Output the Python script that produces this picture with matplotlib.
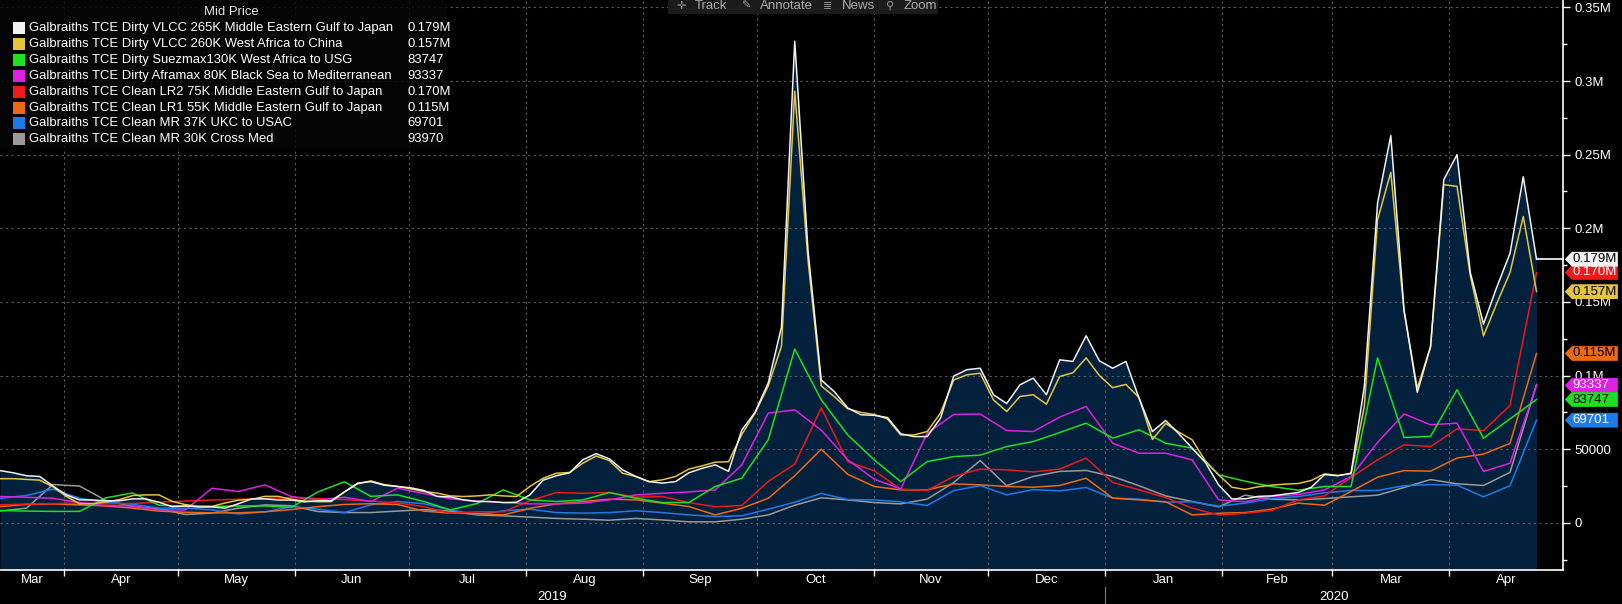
import numpy as np
import pandas as pd
import matplotlib
matplotlib.use('Agg')
import matplotlib.pyplot as plt
import matplotlib.dates as mdates
import matplotlib.transforms as mtransforms
from matplotlib.patches import Polygon, Rectangle
from matplotlib.ticker import MultipleLocator, FuncFormatter, FixedLocator, NullFormatter

plt.rcParams['font.family'] = ['Liberation Sans', 'DejaVu Sans']

W, H = 1622, 604

# the two VLCC routes are read twice a week, the other routes weekly
dates_half = pd.date_range('2019-03-15', periods=117, freq='84h')
dates_week = pd.date_range('2019-03-15', periods=59, freq='7D')

# values in thousands of USD/day
vlcc_meg_japan = np.array([
    35.5, 34, 32, 31.5, 25, 19, 15.6, 15.5, 15, 15,
    16.3, 16.3, 14, 11, 11.5, 10.8, 10.8, 10, 13, 16.3,
    16.3, 15.5, 15.5, 14.3, 15, 15, 21, 27, 28, 25.6,
    24.7, 23.8, 22, 18, 17.6, 15.6, 14.5, 14.5, 13.8, 14,
    19, 29, 32, 34, 42.8, 47, 43.5, 36, 31.5, 28,
    27, 28, 34, 37, 39.4, 35, 63, 75, 95, 133,
    327, 185, 97, 89, 78, 73.4, 73, 71.5, 60.5, 58.6,
    58.6, 71, 99.6, 104, 105, 87, 81, 93.7, 98.3, 87,
    110.7, 109.6, 127, 110, 105, 109.6, 84.5, 62, 69.5, 60.5,
    50.7, 41, 25.8, 16.3, 16.3, 18, 18.3, 19.5, 20.6, 24.2,
    32.8, 32, 33.8, 92.6, 217, 263, 144.6, 88.6, 119.6, 233,
    250, 170, 135, 160, 183, 235, 179]) * 1000

vlcc_waf_china = np.array([
    30, 30, 29.5, 29, 24.5, 18, 13, 13, 14.2, 15.8,
    18.5, 19, 19, 14.6, 12.4, 11.2, 11.2, 13.5, 15.4, 16,
    18, 18, 16, 14.8, 14.4, 14.4, 21, 26.5, 28.5, 26,
    24.8, 23.1, 21.3, 20.2, 18.3, 17.9, 18.3, 19, 18.3, 17.9,
    24.7, 30.3, 33.7, 34.2, 40.5, 45.4, 42.3, 33.7, 31.5, 28,
    29.2, 31.5, 36.5, 38.7, 41.2, 41.5, 60, 74.5, 93, 120,
    293, 178.6, 93, 85.6, 77.5, 75, 73.6, 70.6, 59.7, 59.7,
    62, 74.5, 97, 100.5, 101.6, 83.5, 75.6, 85.8, 87, 80.6,
    99.4, 101.9, 112, 100, 91.8, 94, 85, 56.6, 67.5, 61.6,
    56.4, 42.1, 32.6, 24.2, 22.7, 24.5, 25.6, 26.3, 26.7, 28.8,
    33.3, 32.2, 33.3, 79, 205.8, 238, 143.6, 91.5, 119.6, 229.6,
    228.5, 168, 127, 149, 170, 208, 157]) * 1000

suezmax_waf_usg = np.array([
    8.4, 8, 7.8, 7.8, 17, 20.3, 12, 11.3, 11.1, 11.5,
    11.5, 10.5, 21, 27.9, 18, 19, 14.5, 8.8, 13.1, 22.4,
    15.6, 14.5, 15.6, 20.6, 16.7, 13.8, 13.8, 24.7, 30.3, 56.4,
    118, 83.6, 59.7, 42.8, 28, 41.6, 45, 46, 51.8, 55.2,
    61.3, 67.7, 57.5, 63.2, 54.1, 50.7, 32.6, 28.3, 24.7, 22.2,
    24.7, 24.7, 112, 58, 58.7, 90.4, 57.5, 70.6, 83.747]) * 1000

aframax_bsea_med = np.array([
    17.9, 17.4, 16.7, 13.8, 11.6, 11.5, 8.8, 8.8, 23.5, 21.3,
    25.8, 17.9, 15.6, 17.4, 14.5, 23.5, 19.9, 16.3, 14.9, 13.8,
    12.9, 12.9, 13.4, 15.6, 19, 20.1, 21, 22.4, 39.4, 74.5,
    76.7, 63, 42.8, 29.7, 23, 60.9, 73.6, 73.9, 62.7, 62,
    71.8, 79, 54.1, 47.3, 47.3, 42.8, 15.6, 14.3, 17.9, 19.3,
    22.4, 31.5, 54.6, 74, 66.6, 67.7, 34.9, 40.5, 93.337]) * 1000

lr2_meg_japan = np.array([
    12.2, 12.8, 13, 13.5, 12.9, 13.2, 14, 14.8, 15.5, 16,
    16.5, 17.2, 16.5, 15.8, 14.8, 13.5, 11, 6.5, 7.5, 7.5,
    15, 20.6, 20.1, 20.6, 17.4, 17.9, 13.8, 10.9, 11.8, 28.1,
    40, 78, 41.6, 35.4, 22.9, 22, 31.5, 36.5, 36, 34.6,
    36.5, 44, 27.5, 22.4, 17.2, 10, 5.4, 6.5, 8.4, 15.6,
    18.3, 30.8, 42.8, 53, 51.8, 63.8, 62.7, 79.7, 170]) * 1000

lr1_meg_japan = np.array([
    11, 12.5, 12.8, 12.2, 11.5, 10, 8, 7.2, 6.8, 6.8,
    7.5, 9, 11, 12.5, 13, 12.5, 8, 6.6, 6.3, 5.4,
    9.9, 12.9, 14.5, 16.1, 15.6, 13.4, 11.1, 5.4, 9.9, 16.7,
    32, 50, 33, 24.7, 22.4, 22.4, 26.5, 25.8, 24.7, 24.2,
    25.4, 30.3, 16.8, 15.6, 14.3, 5.4, 6.5, 7, 9.3, 13.4,
    12, 21.3, 31, 35.5, 35.1, 44, 46.7, 54, 115]) * 1000

mr_ukc_usac = np.array([
    16.7, 18.6, 22.9, 16.7, 14, 12.6, 10, 10, 8.8, 6,
    7.5, 11, 9.3, 7, 12.2, 14.5, 13, 8.8, 5.7, 8.2,
    9.3, 7, 6.6, 7, 8.2, 7, 5.4, 4.3, 4.8, 9.3,
    14, 20, 15.8, 15.6, 14.3, 11.8, 21.9, 25.3, 19, 22.6,
    21.7, 24, 16.8, 16.1, 14, 14.3, 11.3, 13.4, 16.5, 17.9,
    20.4, 22, 22, 25.2, 26, 25.6, 17.7, 25.2, 69.701]) * 1000

mr_cross_med = np.array([
    8, 10, 26, 25, 15.2, 11.1, 9.5, 5.7, 6.6, 10,
    12.2, 11.6, 7.7, 7, 7, 8, 9, 8, 5.4, 4.8,
    3.9, 3, 2.5, 1.8, 3, 2, 0.7, 0.7, 2.5, 5.4,
    12, 17, 15.6, 13.8, 12.9, 16.1, 27.4, 42.3, 25.2, 31.5,
    34.9, 35.6, 31.5, 25.2, 18.3, 14.5, 10.9, 18.8, 16.1, 15.6,
    16.5, 17.7, 18.8, 24, 29.4, 26.5, 25.4, 34.3, 93.97]) * 1000

names = [
    'Galbraiths TCE Dirty VLCC 265K Middle Eastern Gulf to Japan',
    'Galbraiths TCE Dirty VLCC 260K West Africa to China',
    'Galbraiths TCE Dirty Suezmax130K West Africa to USG',
    'Galbraiths TCE Dirty Aframax 80K Black Sea to Mediterranean',
    'Galbraiths TCE Clean LR2 75K Middle Eastern Gulf to Japan',
    'Galbraiths TCE Clean LR1 55K Middle Eastern Gulf to Japan',
    'Galbraiths TCE Clean MR 37K UKC to USAC',
    'Galbraiths TCE Clean MR 30K Cross Med',
]
colors = ['#f2f2f2', '#e4c53c', '#1fe01f', '#e020e0', '#f01818', '#ee6a12', '#1e7be8', '#9a9a9a']
box_text = ['black', 'black', 'black', 'white', 'white', 'black', 'white', 'black']
series = [
    (dates_half, vlcc_meg_japan),
    (dates_half, vlcc_waf_china),
    (dates_week, suezmax_waf_usg),
    (dates_week, aframax_bsea_med),
    (dates_week, lr2_meg_japan),
    (dates_week, lr1_meg_japan),
    (dates_week, mr_ukc_usac),
    (dates_week, mr_cross_med),
]


def fmt_val(v):
    if v >= 100000:
        return f'{v / 1e6:.3f}M'
    return f'{v:.0f}'


def fmt_tick(v, pos):
    if abs(v) >= 100000:
        return f'{v / 1e6:g}M'
    return f'{v:.0f}'


x_start = pd.Timestamp('2019-03-15')
x_end = pd.Timestamp('2020-05-01')
y_bottom, y_top = -32000, 355000

fig = plt.figure(figsize=(W / 100, H / 100), dpi=100, facecolor='black')
ax = fig.add_axes([0, 34 / H, 1563 / W, 570 / H], facecolor='black')

# area under the first route
ax.fill_between(dates_half, vlcc_meg_japan, y_bottom, color='#03203d', lw=0, zorder=1)
for (d, v), c in reversed(list(zip(series, colors))):
    ax.plot(d, v, color=c, lw=1.1, zorder=2)
# last price line
ax.plot([dates_half[-1], x_end], [vlcc_meg_japan[-1]] * 2, color='white', lw=1.2, clip_on=False, zorder=2)

ax.set_xlim(x_start, x_end)
ax.set_ylim(y_bottom, y_top)

# y axis on the right
ax.yaxis.tick_right()
ax.yaxis.set_major_locator(MultipleLocator(50000))
ax.yaxis.set_minor_locator(MultipleLocator(25000))
ax.yaxis.set_major_formatter(FuncFormatter(fmt_tick))
ax.tick_params(axis='y', which='major', colors='white', labelsize=9.5, length=5, width=1, pad=3)
ax.tick_params(axis='y', which='minor', colors='white', length=3, width=1)

# month boundaries as major ticks, month names centred in between
month_starts = pd.date_range('2019-04-01', '2020-04-01', freq='MS')
bounds = [x_start] + list(month_starts) + [x_end]
mids = [a + (b - a) / 2 for a, b in zip(bounds[:-1], bounds[1:])]
ax.xaxis.set_major_locator(FixedLocator(mdates.date2num(month_starts)))
ax.xaxis.set_major_formatter(NullFormatter())
ax.xaxis.set_minor_locator(FixedLocator(mdates.date2num(mids)))
ax.xaxis.set_minor_formatter(FuncFormatter(lambda v, p: mdates.num2date(v).strftime('%b')))
ax.tick_params(axis='x', which='major', colors='white', length=4, width=1, direction='out')
ax.tick_params(axis='x', which='minor', colors='white', labelsize=9.5, length=0, pad=3)

for s in ['left', 'top']:
    ax.spines[s].set_visible(False)
for s in ['right', 'bottom']:
    ax.spines[s].set_color('white')
    ax.spines[s].set_linewidth(1.2)

ax.grid(True, which='major', color='#5c5c5c', linestyle=(0, (2, 3)), linewidth=0.8)

# year labels under the months
xt = ax.get_xaxis_transform()
jan1 = pd.Timestamp('2020-01-01')
ax.text(x_start + (jan1 - x_start) / 2, -0.047, '2019', transform=xt, ha='center', va='center',
        color='white', fontsize=9.5)
ax.text(jan1 + (x_end - jan1) / 2, -0.047, '2020', transform=xt, ha='center', va='center',
        color='white', fontsize=9.5)
ax.plot([jan1, jan1], [-0.03, -0.06], transform=xt, color='#777777', lw=0.8, clip_on=False)

# last value tags on the right
lab = fig.add_axes([1563 / W, 34 / H, 59 / W, 570 / H])
lab.set_ylim(y_bottom, y_top)
lab.axis('off')
lab.patch.set_alpha(0)
tr = mtransforms.blended_transform_factory(lab.transAxes, lab.transData)
h = 5000
tags = list(zip(series, colors, box_text))[:7]
for i, ((d, v), c, tc) in enumerate(reversed(tags)):
    last = v[-1]
    poly = Polygon([(0.03, last), (0.15, last + h), (0.93, last + h), (0.93, last - h), (0.15, last - h)],
                   closed=True, transform=tr, facecolor=c, edgecolor='none', clip_on=False, zorder=2 * i + 2)
    lab.add_patch(poly)
    lab.text(0.16, last, fmt_val(last), transform=tr, ha='left', va='center', color=tc,
             fontsize=9.5, zorder=2 * i + 3, clip_on=False)

# legend panel
fig.add_artist(Rectangle((0, 1 - 148 / H), 447 / W, 148 / H, transform=fig.transFigure,
                         facecolor='#050505', edgecolor='none', alpha=0.85, zorder=5))
fig.text(231 / W, 1 - 12 / H, 'Mid Price', ha='center', va='center', color='#e6e6e6', fontsize=9.4, zorder=6)
for i, (name, c, (d, v)) in enumerate(zip(names, colors, series)):
    yy = 28 + 15.9 * i
    fig.add_artist(Rectangle((13 / W, 1 - (yy + 6) / H), 12 / W, 12 / H, transform=fig.transFigure,
                             facecolor=c, edgecolor='none', zorder=6))
    fig.text(29 / W, 1 - yy / H, name, ha='left', va='center', color='white', fontsize=9.4, zorder=6)
    fig.text(407 / W, 1 - yy / H, fmt_val(v[-1]), ha='left', va='center', color='white', fontsize=9.4, zorder=6)

# chart toolbar
fig.add_artist(Rectangle((668 / W, 1 - 14 / H), 270 / W, 14 / H, transform=fig.transFigure,
                         facecolor='#1b1b1b', edgecolor='none', zorder=5))
for icon, xi, label, xl in [('\u271b', 681, 'Track', 695), ('\u270e', 746, 'Annotate', 760),
                            ('\u2263', 828, 'News', 842), ('\u26b2', 890, 'Zoom', 904)]:
    fig.text(xi / W, 1 - 6 / H, icon, ha='center', va='center', color='#9a9a9a', fontsize=8,
             family=['DejaVu Sans'], zorder=6)
    fig.text(xl / W, 1 - 6 / H, label, ha='left', va='center', color='#aaaaaa', fontsize=9.5, zorder=6)

fig.savefig('out.png', dpi=100, facecolor='black')
